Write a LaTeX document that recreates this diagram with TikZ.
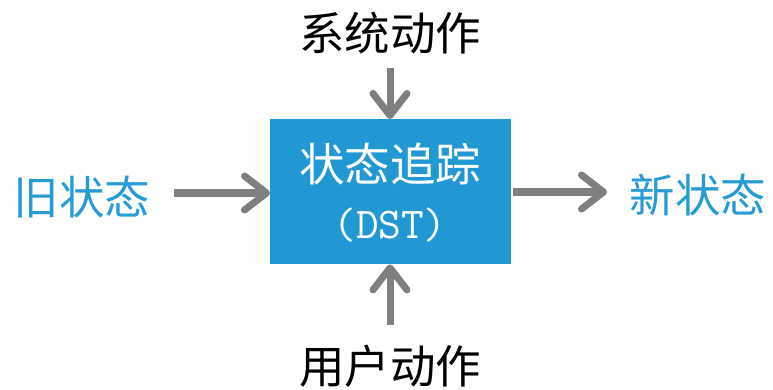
\documentclass[tikz,border=0pt]{standalone}
\usepackage{fontspec}
\newfontfamily\cjk{Noto Sans CJK SC}
\usetikzlibrary{arrows.meta}
\definecolor{boxblue}{RGB}{33,152,212}
\definecolor{textblue}{RGB}{38,155,213}
\definecolor{arrowgray}{RGB}{127,127,127}
\begin{document}
\begin{tikzpicture}[x=1pt,y=-1pt,
  conn/.style={draw=arrowgray,line width=7pt,
    -{Straight Barb[length=22pt,width=34pt,round]}},
  lbl/.style={font=\cjk\fontsize{45.5}{50}\selectfont,inner sep=0pt,anchor=center}]
\useasboundingbox (0,0) rectangle (773,390);
\node[fill=boxblue,minimum width=241pt,minimum height=145pt,inner sep=0pt,anchor=north west] (dst) at (270,119) {};
\node[lbl,text=white] (t1) at (390,164) {状态追踪};
\node[font=\ttfamily\fontsize{44}{50}\selectfont,text=white,inner sep=0pt] (t2) at (390,225) {(DST)};
\node[lbl] (sys) at (390,33) {系统动作};
\node[lbl] (usr) at (390,366) {用户动作};
\node[lbl,text=textblue] (old) at (82,197) {旧状态};
\node[lbl,text=textblue] (new) at (698,195) {新状态};
\coordinate (a1) at (174,193);
\coordinate (a2) at (513,192);
\coordinate (a3) at (390,68);
\coordinate (a4) at (390,325);
\draw[conn] (a1) -- (dst.west|-a1);
\draw[conn] (a2) -- (607,192);
\draw[conn] (a3) -- (dst.north-|a3);
\draw[conn] (a4) -- (dst.south-|a4);
\end{tikzpicture}
\end{document}
